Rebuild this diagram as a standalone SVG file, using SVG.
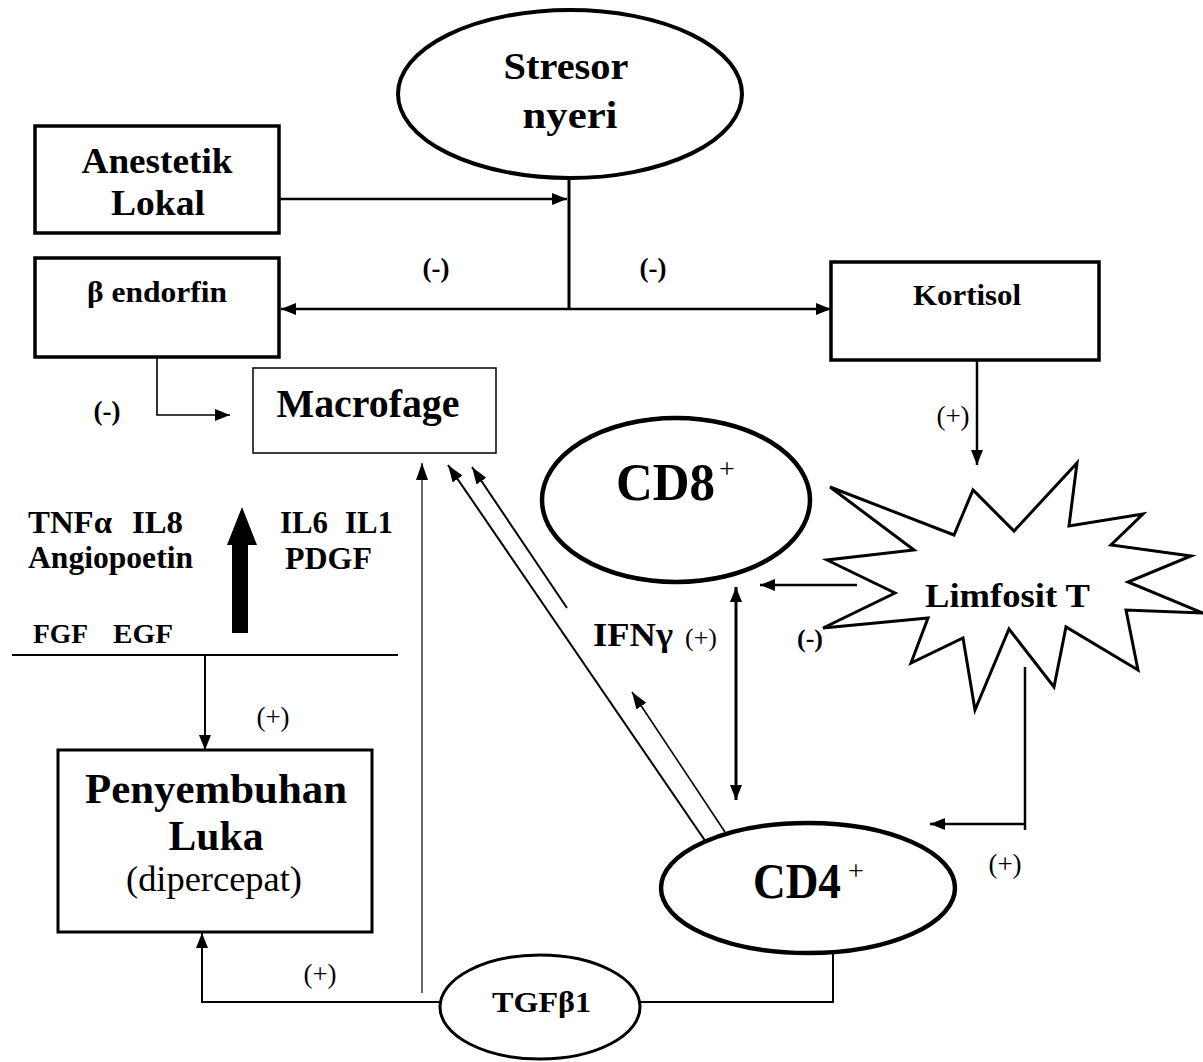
<svg xmlns="http://www.w3.org/2000/svg" width="1203" height="1062" viewBox="0 0 1203 1062">
<style>
.bx{fill:#fff;stroke:#000;stroke-width:3.5}
.thin{fill:#fff;stroke:#000;stroke-width:1.5}
.el{fill:#fff;stroke:#000;stroke-width:4.5}
.ln{fill:none;stroke:#000;stroke-width:2.5}
.lt{fill:none;stroke:#000;stroke-width:1.6}
.b{font-family:"Liberation Serif","Times New Roman",serif;font-weight:bold;fill:#000}
.r{font-family:"Liberation Serif","Times New Roman",serif;font-weight:normal;fill:#000}
.m{text-anchor:middle}
</style>
<defs>
<marker id="ah" markerUnits="userSpaceOnUse" markerWidth="16" markerHeight="12" refX="15" refY="6" orient="auto-start-reverse">
<path d="M0,0 L15,6 L0,12 z" fill="#000"/>
</marker>
<marker id="as" markerUnits="userSpaceOnUse" markerWidth="18" markerHeight="12" refX="17" refY="6" orient="auto-start-reverse">
<path d="M0,0 L17,6 L0,12 z" fill="#000"/>
</marker>
</defs>
<rect width="1203" height="1062" fill="#fff"/>

<g id="connectors">
<line class="ln" x1="279" y1="199" x2="567" y2="199" marker-end="url(#ah)"/>
<line class="ln" x1="569" y1="165" x2="569" y2="310" style="stroke-width:3"/>
<line class="ln" x1="569" y1="309" x2="281" y2="309" marker-end="url(#ah)"/>
<line class="ln" x1="569" y1="309" x2="831" y2="309" marker-end="url(#ah)"/>
<polyline class="lt" points="157,357 157,415 230,415" marker-end="url(#ah)"/>
<line class="ln" x1="977" y1="360" x2="977" y2="465" marker-end="url(#ah)"/>
<line class="ln" x1="857" y1="585" x2="760" y2="585" marker-end="url(#ah)"/>
<line class="ln" x1="736" y1="587" x2="736" y2="800" style="stroke-width:3" marker-start="url(#ah)" marker-end="url(#ah)"/>
<line class="ln" x1="1025" y1="667" x2="1025" y2="830"/>
<line class="ln" x1="1025" y1="824" x2="930" y2="824" marker-end="url(#ah)"/>
<line class="ln" x1="708" y1="845" x2="448" y2="465" style="stroke-width:2" marker-end="url(#as)"/>
<line class="ln" x1="567" y1="608" x2="472" y2="467" style="stroke-width:2" marker-end="url(#as)"/>
<line class="lt" x1="725" y1="832" x2="632" y2="692" marker-end="url(#as)"/>
<line class="lt" x1="422" y1="993" x2="422" y2="463" style="stroke-width:1.2" marker-end="url(#as)"/>
<line class="ln" x1="12" y1="655" x2="398" y2="655" style="stroke-width:2"/>
<line class="ln" x1="205" y1="655" x2="205" y2="750" style="stroke-width:2" marker-end="url(#ah)"/>
<polyline class="ln" points="439,1002 202,1002 202,933" style="stroke-width:2" marker-end="url(#ah)"/>
<polyline class="ln" points="640,1002 833,1002 833,948" style="stroke-width:2"/>
<polygon points="232,633 248,633 248,545 257,545 242,507 227,545 232,545" fill="#000"/>
</g>

<g id="stresor">
<ellipse class="el" cx="570" cy="94" rx="172" ry="84" style="stroke-width:4"/>
<text class="b m" x="566" y="79" font-size="37" textLength="125" lengthAdjust="spacingAndGlyphs">Stresor</text>
<text class="b m" x="570" y="128" font-size="37" textLength="95" lengthAdjust="spacingAndGlyphs">nyeri</text>
</g>

<g id="anestetik">
<rect class="bx" x="35" y="126" width="244" height="107"/>
<text class="b m" x="157" y="173" font-size="35" textLength="151" lengthAdjust="spacingAndGlyphs">Anestetik</text>
<text class="b m" x="158" y="215" font-size="35" textLength="94" lengthAdjust="spacingAndGlyphs">Lokal</text>
</g>

<g id="endorfin">
<rect class="bx" x="35" y="258" width="244" height="99"/>
<text class="b m" x="157" y="302" font-size="29" textLength="140" lengthAdjust="spacingAndGlyphs">β endorfin</text>
</g>

<g id="kortisol">
<rect class="bx" x="831" y="262" width="268" height="98"/>
<text class="b m" x="967" y="305" font-size="29" textLength="108" lengthAdjust="spacingAndGlyphs">Kortisol</text>
</g>

<g id="macrofage">
<rect class="thin" x="253" y="368" width="243" height="85"/>
<text class="b m" x="368" y="417" font-size="39" textLength="183" lengthAdjust="spacingAndGlyphs">Macrofage</text>
</g>

<g id="cd8">
<ellipse class="el" cx="676" cy="500" rx="134" ry="82"/>
<text class="b" x="616" y="500" font-size="52" textLength="99" lengthAdjust="spacingAndGlyphs">CD8</text>
<text class="r" x="719" y="478" font-size="28">+</text>
</g>

<g id="limfosit">
<polygon points="830,487 954,535 973,490 1014,531 1077,463 1069,526 1143,514 1111,545 1191,556 1128,582 1203,613 1126,610 1138,670 1066,627 1054,687 1009,629 975,710 963,638 911,663 928,618 823,628 895,593 827,560 914,550" fill="#fff" stroke="#000" stroke-width="3" stroke-linejoin="miter"/>
<text class="b" x="925" y="607" font-size="34" textLength="165" lengthAdjust="spacingAndGlyphs">Limfosit T</text>
</g>

<g id="cd4">
<ellipse class="el" cx="808" cy="888" rx="147" ry="65"/>
<text class="b" x="753" y="898" font-size="50" textLength="88" lengthAdjust="spacingAndGlyphs">CD4</text>
<text class="r" x="848" y="880" font-size="28">+</text>
</g>

<g id="tgfb1">
<ellipse class="el" cx="540" cy="1007" rx="100" ry="52" style="stroke-width:3"/>
<text class="b" x="492" y="1012" font-size="30" textLength="99" lengthAdjust="spacingAndGlyphs">TGFβ1</text>
</g>

<g id="penyembuhan">
<rect class="bx" x="58" y="750" width="314" height="182" style="stroke-width:3"/>
<text class="b m" x="216" y="803" font-size="42" textLength="262" lengthAdjust="spacingAndGlyphs">Penyembuhan</text>
<text class="b m" x="216" y="850" font-size="42" textLength="95" lengthAdjust="spacingAndGlyphs">Luka</text>
<text class="r m" x="214" y="891" font-size="35" textLength="176" lengthAdjust="spacingAndGlyphs">(dipercepat)</text>
</g>

<g id="cytokines">
<text class="b" x="28" y="533" font-size="31" textLength="84" lengthAdjust="spacingAndGlyphs">TNFα</text>
<text class="b" x="132" y="533" font-size="31" textLength="51" lengthAdjust="spacingAndGlyphs">IL8</text>
<text class="b" x="28" y="568" font-size="31" textLength="165" lengthAdjust="spacingAndGlyphs">Angiopoetin</text>
<text class="b" x="280" y="533" font-size="31" textLength="48" lengthAdjust="spacingAndGlyphs">IL6</text>
<text class="b" x="345" y="533" font-size="31" textLength="48" lengthAdjust="spacingAndGlyphs">IL1</text>
<text class="b" x="285" y="569" font-size="31" textLength="87" lengthAdjust="spacingAndGlyphs">PDGF</text>
<text class="b" x="33" y="643" font-size="27" textLength="55" lengthAdjust="spacingAndGlyphs">FGF</text>
<text class="b" x="113" y="643" font-size="27" textLength="60" lengthAdjust="spacingAndGlyphs">EGF</text>
</g>

<g id="labels">
<text class="b m" x="436" y="277" font-size="27">(-)</text>
<text class="b m" x="653" y="277" font-size="27">(-)</text>
<text class="b m" x="107" y="420" font-size="27">(-)</text>
<text class="b m" x="810" y="647" font-size="26">(-)</text>
<text class="r m" x="953" y="425" font-size="27">(+)</text>
<text class="b" x="593" y="646" font-size="34" textLength="80" lengthAdjust="spacingAndGlyphs">IFNγ</text>
<text class="r" x="685" y="646" font-size="26">(+)</text>
<text class="r m" x="273" y="726" font-size="27">(+)</text>
<text class="r m" x="1005" y="873" font-size="27">(+)</text>
<text class="r m" x="320" y="983" font-size="27">(+)</text>
</g>
</svg>
